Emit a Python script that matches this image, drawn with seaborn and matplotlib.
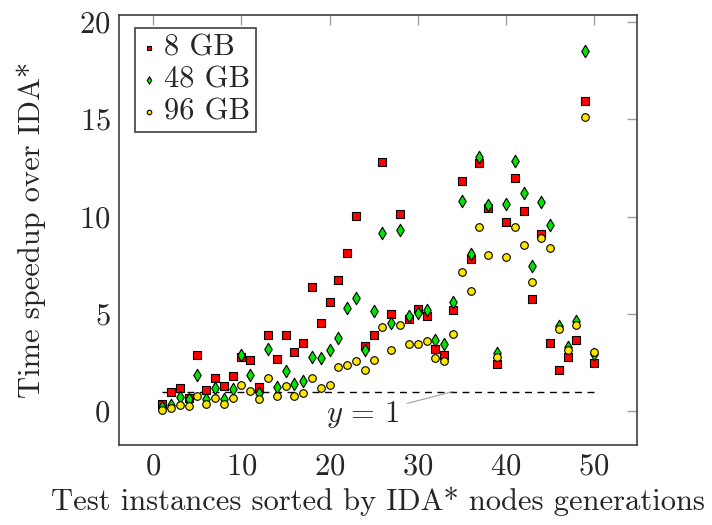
import numpy as np
import pandas as pd
import seaborn as sns
import matplotlib
matplotlib.use("Agg")
import matplotlib.pyplot as plt

# instances sorted by IDA* node generations
instance = list(range(1, 51))

gb8 = [0.34, 0.98, 1.2, 0.69, 2.9, 1.1, 1.67, 1.29, 1.8, 2.8,
       2.6, 1.25, 3.9, 2.66, 3.9, 3.03, 3.5, 6.36, 4.54, 5.6,
       6.72, 8.14, 10.03, 3.34, 3.9, 12.79, 4.97, 10.15, 4.75, 5.25,
       4.89, 3.2, 2.88, 5.21, 11.83, 7.83, 12.74, 10.44, 2.44, 9.72,
       11.96, 10.28, 5.74, 9.1, 3.52, 2.13, 2.78, 3.67, 15.92, 2.45]
gb48 = [0.2, 0.29, 0.72, 0.6, 1.85, 0.6, 1.18, 0.59, 1.15, 2.86,
        1.87, 0.93, 3.2, 1.22, 2.06, 1.39, 1.56, 2.76, 2.74, 3.12,
        3.75, 5.32, 5.81, 3.15, 5.16, 9.15, 4.54, 9.29, 4.87, 5.04,
        5.2, 3.67, 3.46, 5.59, 10.78, 8.07, 13.08, 10.58, 2.97, 10.64,
        12.87, 11.23, 7.46, 10.76, 9.55, 4.37, 3.28, 4.65, 18.5, 2.95]
gb96 = [0.07, 0.14, 0.29, 0.28, 0.77, 0.36, 0.69, 0.36, 0.69, 1.36,
        1.05, 0.62, 1.7, 0.79, 1.29, 0.79, 0.93, 1.7, 1.2, 1.36,
        2.28, 2.35, 2.56, 2.09, 2.62, 4.32, 3.16, 4.44, 3.45, 3.45,
        3.6, 2.74, 2.57, 3.96, 7.17, 6.19, 9.44, 8.02, 2.8, 7.9,
        9.44, 8.54, 6.65, 8.88, 8.37, 4.22, 3.14, 4.41, 15.14, 3.02]

labels = ["8 GB", "48 GB", "96 GB"]
colors = ["#ff0000", "#00e600", "#ffe600"]
markers = ["s", "d", "o"]
sizes = [30, 40, 30]

sns.set_style("white")
plt.rcParams["font.family"] = "serif"
plt.rcParams["font.serif"] = ["cmr10", "DejaVu Serif"]
plt.rcParams["mathtext.fontset"] = "cm"
plt.rcParams["axes.formatter.use_mathtext"] = True

FS = 22

fig = plt.figure(figsize=(7.12, 5.25), dpi=100)
ax = fig.add_axes([0.167, 0.152, 0.728, 0.819])

for vals, lab, col, mk, sz in zip([gb8, gb48, gb96], labels, colors, markers, sizes):
    df = pd.DataFrame({"x": instance, "y": vals})
    sns.scatterplot(data=df, x="x", y="y", ax=ax, color=col, marker=mk, s=sz,
                    edgecolor="black", linewidth=0.8, label=lab, zorder=3)

# reference line y = 1
ax.plot([1, 50], [1, 1], color="black", linestyle=(0, (5, 4)), linewidth=1.0, zorder=2)
ax.annotate(r"$y\,=\,1$", xy=(34, 1.0), xytext=(23.8, -0.2), fontsize=FS,
            ha="center", va="center",
            arrowprops=dict(arrowstyle="-", color="#a0a0a0", lw=0.8,
                            shrinkA=3, shrinkB=0))

ax.set_xlim(-3.9, 54.9)
ax.set_ylim(-1.76, 20.35)
ax.set_xticks([0, 10, 20, 30, 40, 50])
ax.set_yticks([0, 5, 10, 15, 20])
ax.tick_params(direction="in", length=7, width=1, color="#a0a0a0",
               top=True, right=True, labelsize=FS, pad=6)
for sp in ax.spines.values():
    sp.set_color("#404040")
    sp.set_linewidth(1.2)

ax.set_xlabel("Test instances sorted by IDA* nodes generations", fontsize=FS, labelpad=4)
ax.set_ylabel("Time speedup over IDA*", fontsize=FS, labelpad=24)

leg = ax.legend(loc="upper left", bbox_to_anchor=(0.031, 0.97), fontsize=FS,
                frameon=True, fancybox=False, framealpha=1, edgecolor="#404040",
                handlelength=0.5, handletextpad=0.25, borderpad=0.2,
                labelspacing=0.15, borderaxespad=0, markerscale=0.6)
leg.get_frame().set_linewidth(1.2)

fig.savefig("out.png", dpi=100)
